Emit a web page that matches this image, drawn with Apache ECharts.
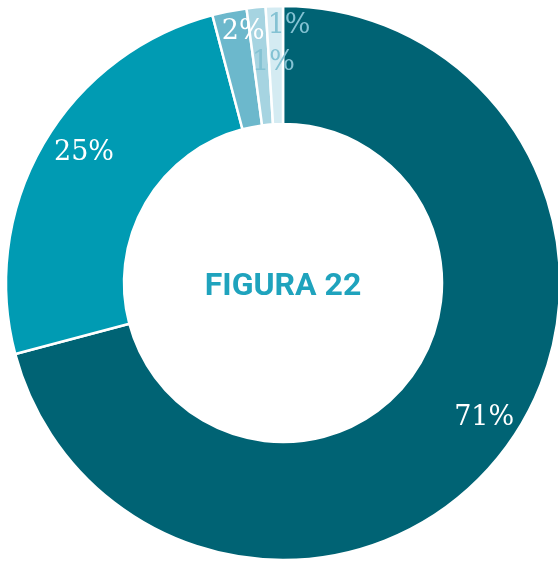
<!DOCTYPE html>
<html>
<head>
<meta charset="utf-8">
<script src="https://cdn.jsdelivr.net/npm/echarts@6/dist/echarts.min.js"></script>
<style>
  html, body { margin: 0; padding: 0; background: #fff; }
  #chart { width: 558px; height: 562px; }
</style>
</head>
<body>
<div id="chart"></div>
<script>
// valores de la figura 22 (en %), sentido horario desde arriba
var categories = ['A', 'B', 'C', 'D', 'E'];
var values = [70.8, 25.0, 2.0, 1.1, 1.0];
var colorList = ['#006374', '#009bb3', '#6cb8cc', '#a6d4e1', '#d4ebf2'];
var labelColors = ['#ffffff', '#ffffff', '#ffffff', '#84c2d3', '#84c2d3'];
// desplazamiento de etiquetas respecto a la posición "inside"
var labelOffsets = [[26, 0], [-8, -19], [3, -34], [12, 0], [13, -36]];

var myChart = echarts.init(document.getElementById('chart'));
myChart.setOption({
    animation: false,
    color: colorList,
    title: {
        text: 'FIGURA 22',
        left: 278,
        top: 282,
        textAlign: 'center',
        textVerticalAlign: 'middle',
        textStyle: {
            color: '#1fa3bd',
            fontFamily: 'Roboto',
            fontWeight: 'bold',
            fontSize: 32
        }
    },
    series: [
        {
            type: 'pie',
            center: [283, 283],
            radius: [159, 277],
            startAngle: 90,
            clockwise: true,
            avoidLabelOverlap: false,
            itemStyle: {
                borderColor: '#ffffff',
                borderWidth: 2.5
            },
            label: {
                show: true,
                position: 'inside',
                formatter: function (p) {
                    return Math.round(p.value) + '%';
                },
                fontFamily: 'DejaVu Serif',
                fontSize: 27
            },
            labelLine: { show: false },
            data: values.map(function (v, i) {
                return {
                    name: categories[i],
                    value: v,
                    label: {
                        color: labelColors[i],
                        offset: labelOffsets[i]
                    }
                };
            })
        }
    ]
});
</script>
</body>
</html>
